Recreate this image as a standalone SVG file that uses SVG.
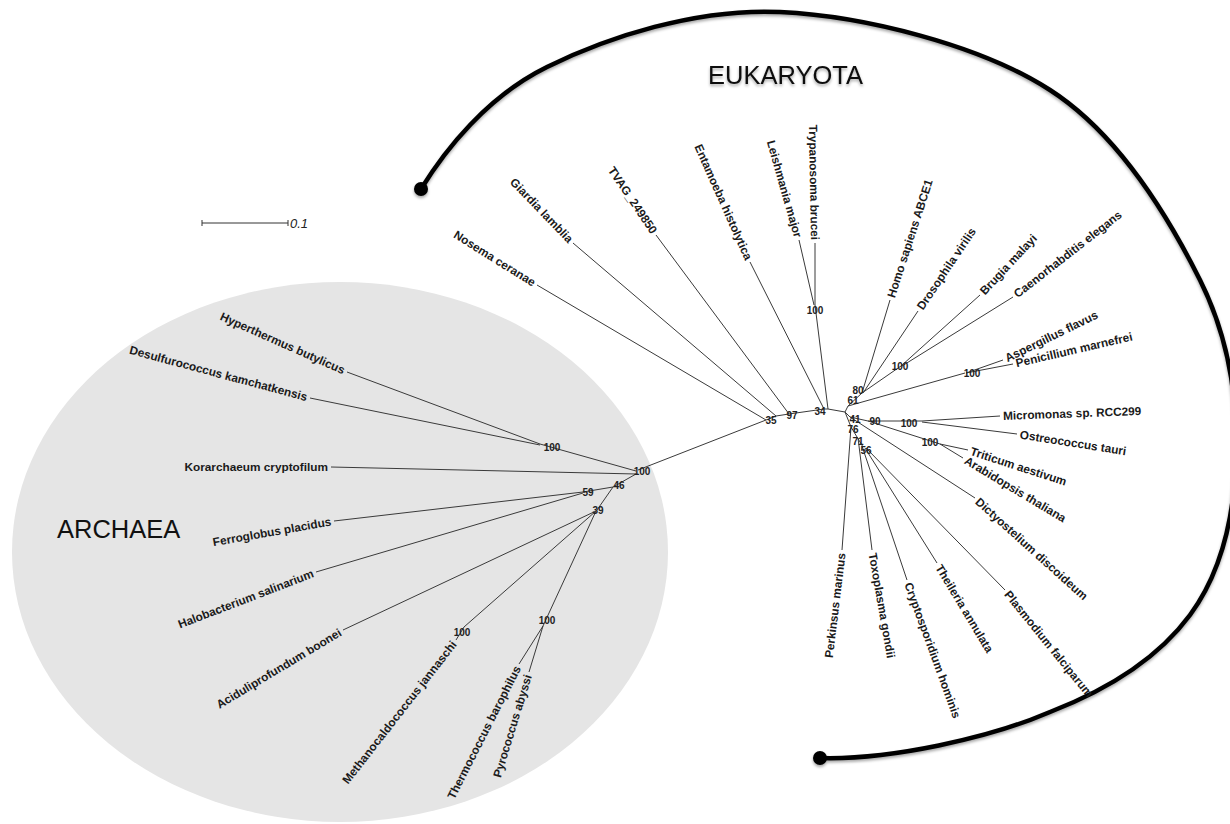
<svg xmlns="http://www.w3.org/2000/svg" width="1230" height="824" viewBox="0 0 1230 824">
<defs>
<style>
.lf{font-family:"Liberation Sans",Arial,sans-serif;font-weight:bold;font-size:11.8px;fill:#1a1a1a}
.bs{font-family:"Liberation Sans",Arial,sans-serif;font-weight:bold;font-size:10px;fill:#222;text-anchor:middle}
.big{font-family:"Liberation Sans",Arial,sans-serif;font-size:25.5px;fill:#111}
.br line,.br polyline{stroke:#3a3a3a;stroke-width:1;fill:none}
.e{text-anchor:end}
</style>
<filter id="sh" x="-5%" y="-5%" width="110%" height="115%">
<feDropShadow dx="0" dy="2" stdDeviation="1.5" flood-color="#000" flood-opacity="0.35"/>
</filter>
</defs>
<rect width="1230" height="824" fill="#fff"/>
<g id="archaea-region">
<ellipse cx="340" cy="552" rx="328" ry="270" fill="#e5e5e5"/>
<text class="big" x="57" y="538">ARCHAEA</text>
</g>
<g id="eukaryota-arc" filter="url(#sh)">
<path d="M421,189 C445,150 487,96.5 547,67 C607,37.5 696,8 780,12 C864,16 980,45 1050,90 C1120,135 1169,218 1200,280 C1231,342 1238,404 1236,460 C1234,516 1221,573 1190,615 C1159,657 1112,688 1050,712 C990,738 890,760 820,758" fill="none" stroke="#000" stroke-width="4.5" stroke-linecap="round"/>
<circle cx="421" cy="189" r="7" fill="#000"/>
<circle cx="820" cy="758" r="7" fill="#000"/>
<text class="big" x="708" y="84" font-size="25">EUKARYOTA</text>
</g>
<g id="scale-bar">
<line x1="202" y1="223" x2="288" y2="223" stroke="#333" stroke-width="1"/>
<line x1="202" y1="220" x2="202" y2="226" stroke="#333" stroke-width="1"/>
<line x1="288" y1="220" x2="288" y2="226" stroke="#333" stroke-width="1"/>
<text x="290" y="228" font-family="Liberation Sans,Arial,sans-serif" font-style="italic" font-size="13" fill="#222">0.1</text>
</g>
<g id="connectors" class="br">
<line x1="347" y1="372" x2="540" y2="444"/>
<line x1="310" y1="398" x2="540" y2="445"/>
<line x1="540" y1="444" x2="636" y2="471"/>
<line x1="331" y1="467" x2="636" y2="474"/>
<line x1="636" y1="474" x2="613" y2="487"/>
<line x1="613" y1="487" x2="583" y2="492"/>
<line x1="334" y1="521" x2="583" y2="492"/>
<line x1="316" y1="572" x2="583" y2="493"/>
<line x1="613" y1="487" x2="597" y2="510"/>
<line x1="343" y1="630" x2="596" y2="511"/>
<line x1="596" y1="511" x2="464" y2="627"/>
<line x1="456" y1="640" x2="464" y2="627"/>
<line x1="596" y1="511" x2="543" y2="626"/>
<line x1="519" y1="664" x2="543" y2="626"/>
<line x1="529" y1="672" x2="543" y2="626"/>
<line x1="638" y1="470" x2="766" y2="420"/>
<polyline points="766,420 776,416 789,414 824,409 828,409 845,412"/>
<line x1="537" y1="285" x2="766" y2="420"/>
<line x1="573" y1="243" x2="776" y2="416"/>
<line x1="656" y1="235" x2="789" y2="414"/>
<line x1="750" y1="262" x2="824" y2="409"/>
<line x1="799" y1="240" x2="814" y2="305"/>
<line x1="815" y1="243" x2="815" y2="305"/>
<line x1="815" y1="305" x2="828" y2="409"/>
<line x1="845" y1="412" x2="848" y2="406"/>
<line x1="848" y1="406" x2="862" y2="393"/>
<line x1="890" y1="300" x2="862" y2="393"/>
<line x1="918" y1="311" x2="863" y2="393"/>
<line x1="862" y1="393" x2="901" y2="366"/>
<line x1="980" y1="295" x2="901" y2="366"/>
<line x1="1013" y1="297" x2="902" y2="366"/>
<line x1="848" y1="406" x2="965" y2="373"/>
<line x1="1003" y1="360" x2="966" y2="373"/>
<line x1="1013" y1="364" x2="966" y2="373"/>
<line x1="845" y1="412" x2="850" y2="417"/>
<line x1="850" y1="417" x2="868" y2="421"/>
<line x1="868" y1="421" x2="922" y2="421"/>
<line x1="1000" y1="416" x2="922" y2="421"/>
<line x1="1017" y1="434" x2="922" y2="422"/>
<line x1="868" y1="421" x2="940" y2="444"/>
<line x1="968" y1="450" x2="940" y2="444"/>
<line x1="963" y1="458" x2="940" y2="444"/>
<line x1="850" y1="417" x2="975" y2="498"/>
<line x1="845" y1="412" x2="851" y2="427"/>
<line x1="842" y1="550" x2="851" y2="427"/>
<line x1="851" y1="427" x2="857" y2="437"/>
<line x1="872" y1="550" x2="858" y2="438"/>
<line x1="857" y1="437" x2="863" y2="447"/>
<line x1="907" y1="580" x2="862" y2="446"/>
<line x1="937" y1="563" x2="865" y2="448"/>
<line x1="1005" y1="590" x2="866" y2="448"/>
</g>
<g id="bootstrap">
<text class="bs" x="552" y="451">100</text>
<text class="bs" x="642" y="475">100</text>
<text class="bs" x="588" y="496">59</text>
<text class="bs" x="619" y="489">46</text>
<text class="bs" x="598" y="514">39</text>
<text class="bs" x="462" y="636">100</text>
<text class="bs" x="547" y="624">100</text>
<text class="bs" x="771" y="424">35</text>
<text class="bs" x="792" y="419">97</text>
<text class="bs" x="820" y="415">34</text>
<text class="bs" x="815" y="314">100</text>
<text class="bs" x="853" y="404">61</text>
<text class="bs" x="858" y="394">80</text>
<text class="bs" x="900" y="370">100</text>
<text class="bs" x="972" y="377">100</text>
<text class="bs" x="855" y="423">41</text>
<text class="bs" x="875" y="425">90</text>
<text class="bs" x="909" y="427">100</text>
<text class="bs" x="930" y="446">100</text>
<text class="bs" x="853" y="433">76</text>
<text class="bs" x="858" y="445">71</text>
<text class="bs" x="866" y="454">56</text>
</g>
<g id="leaf-hyperthermus"><text class="lf e" transform="translate(347,372) rotate(24)" x="-3" y="4">Hyperthermus butylicus</text></g>
<g id="leaf-desulfurococcus"><text class="lf e" transform="translate(310,398) rotate(15)" x="-3" y="4">Desulfurococcus kamchatkensis</text></g>
<g id="leaf-korarchaeum"><text class="lf e" transform="translate(331,467) rotate(0)" x="-3" y="4">Korarchaeum cryptofilum</text></g>
<g id="leaf-ferroglobus"><text class="lf e" transform="translate(334,521) rotate(-10)" x="-3" y="4">Ferroglobus placidus</text></g>
<g id="leaf-halobacterium"><text class="lf e" transform="translate(316,572) rotate(-21)" x="-3" y="4">Halobacterium salinarium</text></g>
<g id="leaf-aciduliprofundum"><text class="lf e" transform="translate(343,630) rotate(-31)" x="-3" y="4">Aciduliprofundum boonei</text></g>
<g id="leaf-methanocaldococcus"><text class="lf e" transform="translate(456,640) rotate(-52)" x="-3" y="4">Methanocaldococcus jannaschi</text></g>
<g id="leaf-thermococcus"><text class="lf e" transform="translate(519,664) rotate(-63)" x="-3" y="4">Thermococcus barophilus</text></g>
<g id="leaf-pyrococcus"><text class="lf e" transform="translate(529,672) rotate(-73)" x="-3" y="4">Pyrococcus abyssi</text></g>
<g id="leaf-nosema"><text class="lf e" transform="translate(537,285) rotate(32)" x="-3" y="4">Nosema ceranae</text></g>
<g id="leaf-giardia"><text class="lf e" transform="translate(573,243) rotate(46)" x="-3" y="4">Giardia lamblia</text></g>
<g id="leaf-tvag"><text class="lf e" transform="translate(656,235) rotate(56)" x="-3" y="4">TVAG_249850</text></g>
<g id="leaf-entamoeba"><text class="lf e" transform="translate(750,262) rotate(66)" x="-3" y="4">Entamoeba histolytica</text></g>
<g id="leaf-leishmania"><text class="lf e" transform="translate(799,240) rotate(74)" x="-3" y="4">Leishmania major</text></g>
<g id="leaf-trypanosoma"><text class="lf e" transform="translate(815,243) rotate(89)" x="-3" y="4">Trypanosoma brucei</text></g>
<g id="leaf-homo"><text class="lf" transform="translate(890,300) rotate(-72)" x="3" y="4">Homo sapiens ABCE1</text></g>
<g id="leaf-drosophila"><text class="lf" transform="translate(918,311) rotate(-56)" x="3" y="4">Drosophila virilis</text></g>
<g id="leaf-brugia"><text class="lf" transform="translate(980,295) rotate(-47)" x="3" y="4">Brugia malayi</text></g>
<g id="leaf-caenorhabditis"><text class="lf" transform="translate(1013,297) rotate(-38)" x="3" y="4">Caenorhabditis elegans</text></g>
<g id="leaf-aspergillus"><text class="lf" transform="translate(1003,360) rotate(-26)" x="3" y="4">Aspergillus flavus</text></g>
<g id="leaf-penicillium"><text class="lf" transform="translate(1013,364) rotate(-13)" x="3" y="4">Penicillium marnefrei</text></g>
<g id="leaf-micromonas"><text class="lf" transform="translate(1000,416) rotate(-2)" x="3" y="4">Micromonas sp. RCC299</text></g>
<g id="leaf-ostreococcus"><text class="lf" transform="translate(1017,434) rotate(9)" x="3" y="4">Ostreococcus tauri</text></g>
<g id="leaf-triticum"><text class="lf" transform="translate(968,450) rotate(18)" x="3" y="4">Triticum aestivum</text></g>
<g id="leaf-arabidopsis"><text class="lf" transform="translate(963,458) rotate(31)" x="3" y="4">Arabidopsis thaliana</text></g>
<g id="leaf-dictyostelium"><text class="lf" transform="translate(975,498) rotate(42)" x="3" y="4">Dictyostelium discoideum</text></g>
<g id="leaf-perkinsus"><text class="lf e" transform="translate(842,550) rotate(-83)" x="-3" y="4">Perkinsus marinus</text></g>
<g id="leaf-toxoplasma"><text class="lf" transform="translate(872,550) rotate(80)" x="3" y="4">Toxoplasma gondii</text></g>
<g id="leaf-cryptosporidium"><text class="lf" transform="translate(907,580) rotate(70)" x="3" y="4">Cryptosporidium hominis</text></g>
<g id="leaf-theileria"><text class="lf" transform="translate(937,563) rotate(59)" x="3" y="4">Theileria annulata</text></g>
<g id="leaf-plasmodium"><text class="lf" transform="translate(1005,590) rotate(51)" x="3" y="4">Plasmodium falciparum</text></g>
</svg>
